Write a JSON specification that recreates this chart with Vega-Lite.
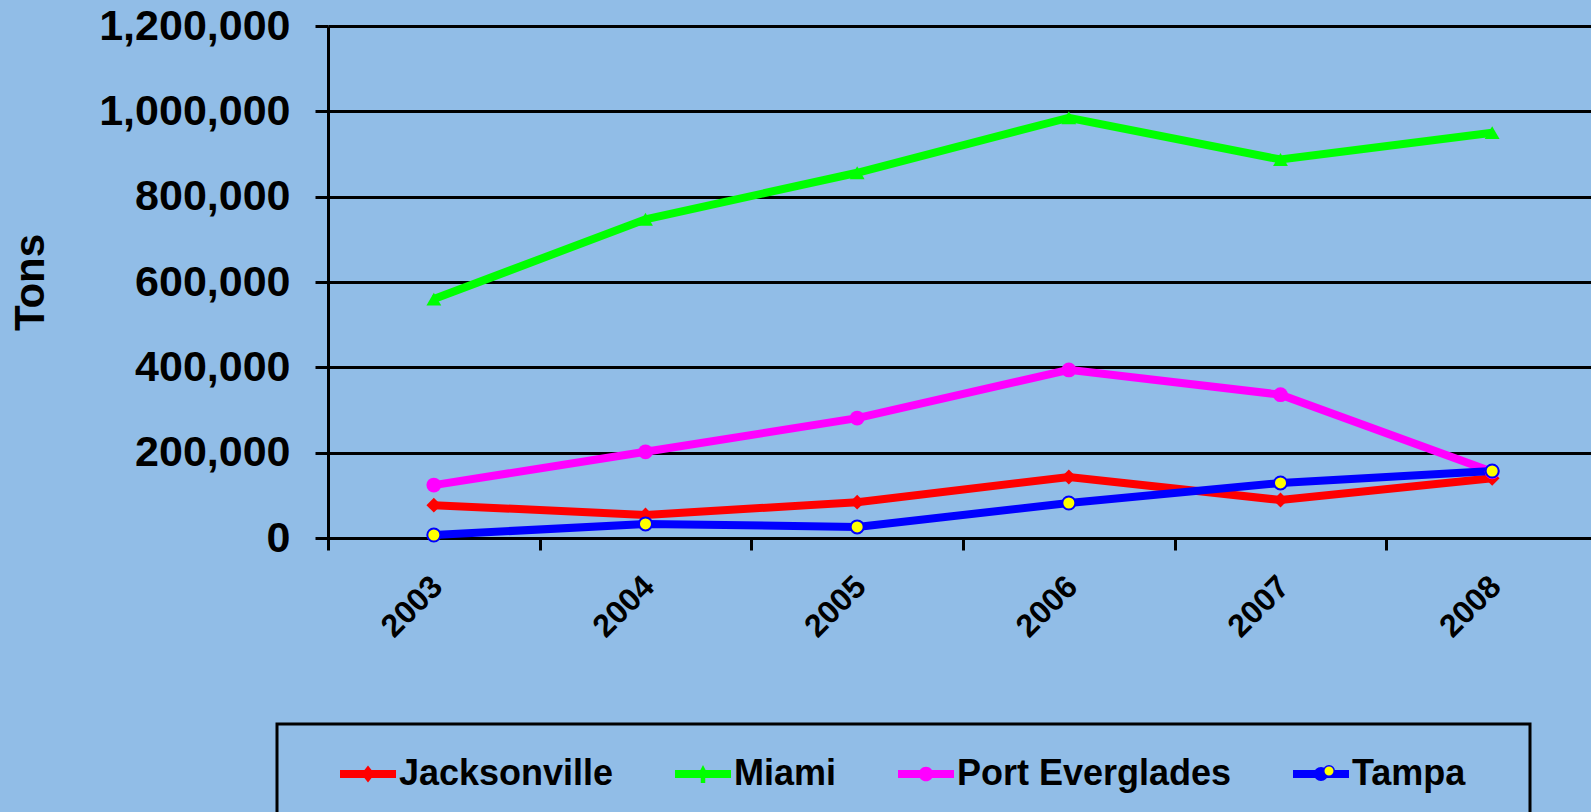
{
  "$schema": "https://vega.github.io/schema/vega-lite/v6.json",
  "autosize": {"type": "none"},
  "padding": {"left": 328, "top": 26, "right": 0, "bottom": 274},
  "width": 1263,
  "height": 512,
  "background": "#91bde7",
  "config": {
    "view": {"stroke": null},
    "font": "Liberation Sans",
    "axis": {
      "domainColor": "#000000",
      "domainWidth": 3,
      "tickColor": "#000000",
      "tickWidth": 3,
      "gridColor": "#000000",
      "gridWidth": 3,
      "gridOpacity": 1,
      "labelColor": "#000000",
      "labelFont": "Liberation Sans",
      "labelFontWeight": "bold",
      "labelLimit": 400,
      "titleFont": "Liberation Sans",
      "titleFontWeight": "bold",
      "titleColor": "#000000"
    }
  },
  "data": {
    "values": [
      {"year": "2003", "port": "Jacksonville", "tons": 77000},
      {"year": "2004", "port": "Jacksonville", "tons": 54000},
      {"year": "2005", "port": "Jacksonville", "tons": 84000},
      {"year": "2006", "port": "Jacksonville", "tons": 143000},
      {"year": "2007", "port": "Jacksonville", "tons": 89000},
      {"year": "2008", "port": "Jacksonville", "tons": 140000},
      {"year": "2003", "port": "Miami", "tons": 560000},
      {"year": "2004", "port": "Miami", "tons": 747000},
      {"year": "2005", "port": "Miami", "tons": 856000},
      {"year": "2006", "port": "Miami", "tons": 985000},
      {"year": "2007", "port": "Miami", "tons": 887000},
      {"year": "2008", "port": "Miami", "tons": 950000},
      {"year": "2003", "port": "Port Everglades", "tons": 124000},
      {"year": "2004", "port": "Port Everglades", "tons": 202000},
      {"year": "2005", "port": "Port Everglades", "tons": 281000},
      {"year": "2006", "port": "Port Everglades", "tons": 394000},
      {"year": "2007", "port": "Port Everglades", "tons": 336000},
      {"year": "2008", "port": "Port Everglades", "tons": 155000},
      {"year": "2003", "port": "Tampa", "tons": 7000},
      {"year": "2004", "port": "Tampa", "tons": 33000},
      {"year": "2005", "port": "Tampa", "tons": 26000},
      {"year": "2006", "port": "Tampa", "tons": 82000},
      {"year": "2007", "port": "Tampa", "tons": 129000},
      {"year": "2008", "port": "Tampa", "tons": 157000}
    ]
  },
  "encoding": {
    "x": {
      "field": "year",
      "type": "ordinal",
      "scale": {"range": [0, 1270], "paddingInner": 0, "paddingOuter": 0},
      "axis": {
        "title": null,
        "labelAngle": -45,
        "labelAlign": "right",
        "labelBaseline": "middle",
        "labelFontSize": 32,
        "labelPadding": 31,
        "labelOffset": 3,
        "tickBand": "extent",
        "tickSize": 12,
        "grid": false
      }
    },
    "y": {
      "field": "tons",
      "type": "quantitative",
      "scale": {"domain": [0, 1200000], "nice": false},
      "axis": {
        "title": "Tons",
        "titleFontSize": 42,
        "titlePadding": 76,
        "values": [0, 200000, 400000, 600000, 800000, 1000000, 1200000],
        "format": ",d",
        "labelFontSize": 43,
        "labelPadding": 25,
        "tickSize": 13,
        "grid": true
      }
    },
    "color": {
      "field": "port",
      "type": "nominal",
      "scale": {
        "domain": ["Jacksonville", "Miami", "Port Everglades", "Tampa"],
        "range": ["#ff0000", "#00ff00", "#ff00ff", "#0000ff"]
      },
      "legend": {
        "title": " ",
        "titleOrient": "right",
        "titleFontSize": 1,
        "titlePadding": 43,
        "orient": "none",
        "legendX": -51,
        "legendY": 698,
        "direction": "horizontal",
        "padding": 22,
        "strokeColor": "#000000",
        "symbolSize": 3136,
        "symbolOffset": 41,
        "labelFont": "Liberation Sans",
        "labelFontWeight": "bold",
        "labelFontSize": 36,
        "labelColor": "#000000",
        "labelOffset": 3,
        "columnPadding": 20,
        "labelLimit": 400,
        "encode": {
          "legend": {
            "update": {
              "stroke": {"value": "#000000"},
              "strokeWidth": {"value": 3}
            }
          },
          "symbols": {
            "update": {
              "shape": {"signal": "datum.value === 'Jacksonville' ? 'M-1,-0.14H1V0.14H-1Z M0,-0.3L0.24,0L0,0.3L-0.24,0Z' : datum.value === 'Miami' ? 'M-1,-0.14H1V0.14H-1Z M0,-0.32L0.24,0.14H-0.24Z M-0.08,0H0.08V0.32H-0.08Z' : datum.value === 'Port Everglades' ? 'M-1,-0.14H1V0.14H-1Z M-0.26,0A0.26,0.26 0 1,1 0.26,0A0.26,0.26 0 1,1 -0.26,0Z' : 'M-1,-0.14H1V0.14H-1Z M-0.25,0A0.25,0.25 0 1,1 0.25,0A0.25,0.25 0 1,1 -0.25,0Z'"},
              "fill": {"signal": "scale('color', datum.value)"},
              "stroke": {"signal": "scale('color', datum.value)"},
              "strokeWidth": {"value": 0},
              "opacity": {"value": 1},
              "fillOpacity": {"value": 1}
            }
          }
        }
      }
    }
  },
  "layer": [
    {
      "mark": {"type": "line", "strokeWidth": 8}
    },
    {
      "transform": [{"filter": "datum.port !== 'Tampa'"}],
      "mark": {"type": "point", "filled": true, "size": 220, "opacity": 1},
      "encoding": {
        "shape": {
          "field": "port",
          "type": "nominal",
          "scale": {
            "domain": ["Jacksonville", "Miami", "Port Everglades"],
            "range": ["diamond", "triangle-up", "circle"]
          },
          "legend": null
        }
      }
    },
    {
      "transform": [{"filter": "datum.port === 'Tampa'"}],
      "mark": {"type": "circle", "size": 170, "stroke": "#0000ff", "strokeWidth": 2, "opacity": 1},
      "encoding": {
        "color": {"value": null},
        "fill": {
          "field": "port",
          "type": "nominal",
          "scale": {"range": ["#ffff00"]},
          "legend": {
            "title": null,
            "orient": "none",
            "legendX": 995,
            "legendY": 739,
            "padding": 0,
            "symbolType": "circle",
            "symbolSize": 110,
            "labelFontSize": 1,
            "labelExpr": "''",
            "encode": {
              "symbols": {
                "update": {
                  "fill": {"value": "#ffff00"},
                  "stroke": {"value": "#0000ff"},
                  "strokeWidth": {"value": 1.5},
                  "opacity": {"value": 1},
                  "fillOpacity": {"value": 1}
                }
              }
            }
          }
        }
      }
    }
  ]
}
